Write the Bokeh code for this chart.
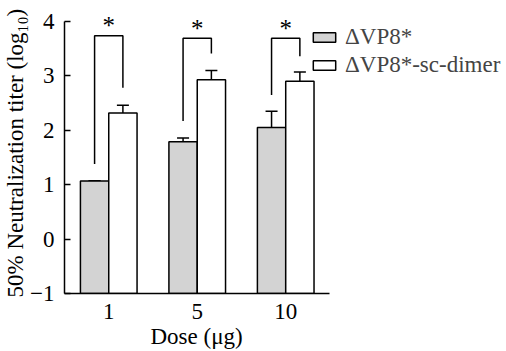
from bokeh.plotting import figure
from bokeh.models import (ColumnDataSource, Whisker, TeeHead, Title,
                          Legend, LegendItem, Range1d, FixedTicker)
from bokeh.transform import dodge
from bokeh.core.properties import value
from bokeh.embed import file_html
from bokeh.resources import INLINE

# ---- data ----
doses = ["1", "5", "10"]
vp8 = [1.07, 1.79, 2.05]
vp8_upper = [1.07, 1.86, 2.35]
vp8_lower = [1.07, 1.72, -0.34]
dimer = [2.32, 2.93, 2.90]
dimer_upper = [2.46, 3.10, 3.07]
dimer_lower = [2.14, 2.69, 2.68]
# significance brackets: left leg bottom, bracket top, right leg bottom
br_left = [1.38, 2.17, 2.65]
br_top = [3.74, 3.69, 3.69]
br_right = [2.78, 3.41, 3.36]
stars = ["*", "*", "*"]
series_names = ["\u0394VP8*", "\u0394VP8*-sc-dimer"]
x_title = "Dose (\u03bcg)"
y_title = "50% Neutralization titer (log\u2081\u2080)"
y_ticks = [-1, 0, 1, 2, 3, 4]

FONT = "Liberation Serif"
OFF = 0.16
W = 0.32

xpos = list(range(1, len(doses) + 1))
src = ColumnDataSource(dict(x=xpos, vp8=vp8, vp8_u=vp8_upper, vp8_l=vp8_lower,
                            dimer=dimer, dimer_u=dimer_upper, dimer_l=dimer_lower))

p = figure(x_range=Range1d(0.5, 5.45), y_range=Range1d(-1, 4.386),
           frame_width=438, frame_height=293,
           min_border_left=60, min_border_right=0, min_border_top=0,
           min_border_bottom=58, output_backend="svg", toolbar_location=None)
p.outline_line_color = None
p.xgrid.visible = False
p.ygrid.visible = False

r1 = p.vbar(x=dodge("x", -OFF), top="vp8", bottom=-1, width=W,
            source=src, fill_color="#d3d3d3", line_color="black", line_width=1.5)
r2 = p.vbar(x=dodge("x", OFF), top="dimer", bottom=-1, width=W,
            source=src, fill_color="white", line_color="black", line_width=1.5)

for xo, up, lo in [(-OFF, "vp8_u", "vp8_l"), (OFF, "dimer_u", "dimer_l")]:
    wk = Whisker(base=dodge("x", xo), upper=up, lower=lo, source=src,
                 line_color="black", line_width=1.5,
                 upper_head=TeeHead(size=12, line_color="black", line_width=1.5),
                 lower_head=TeeHead(size=12, line_color="black", line_width=1.5))
    p.add_layout(wk)

# brackets
xs, ys = [], []
for xc, l, t, r in zip(xpos, br_left, br_top, br_right):
    xs.append([xc - OFF, xc - OFF, xc + OFF, xc + OFF])
    ys.append([l, t, t, r])
p.multi_line(xs=xs, ys=ys, line_color="black", line_width=1.5)
p.text(x=xpos, y=[t + 0.18 for t in br_top], text=stars,
       text_font=value(FONT), text_font_size=value("25px"), text_align="center",
       text_baseline="middle", text_color="black")

# axes
p.xaxis.ticker = FixedTicker(ticks=xpos)
p.xaxis.major_label_overrides = {x: d for x, d in zip(xpos, doses)}
p.xaxis.bounds = (0.5, len(doses) + 0.5)
p.yaxis.ticker = FixedTicker(ticks=y_ticks)
p.yaxis.bounds = (y_ticks[0], y_ticks[-1])
p.yaxis.major_label_overrides = {-1: "\u22121"}
p.yaxis.major_tick_in = 6
p.yaxis.major_tick_out = 0
p.yaxis.minor_tick_line_color = None
p.xaxis.major_tick_line_color = None
p.xaxis.minor_tick_line_color = None
for ax in (p.xaxis, p.yaxis):
    ax.axis_line_color = "black"
    ax.axis_line_width = 1.5
    ax.major_tick_line_width = 1.5
    ax.major_label_text_font = FONT
    ax.major_label_text_font_size = "23px"
    ax.major_label_text_color = "black"
p.yaxis.major_label_standoff = 10
p.xaxis.major_label_standoff = 4

# axis titles placed as side titles so they can be offset
p.add_layout(Title(text=y_title, align="left", offset=-4, standoff=0,
                   text_font=FONT, text_font_size="23px",
                   text_font_style="normal", text_color="black"), "left")
p.add_layout(Title(text=x_title, align="left", offset=86, standoff=0,
                   text_font=FONT, text_font_size="23px",
                   text_font_style="normal", text_color="black"), "below")

legend = Legend(items=[LegendItem(label=series_names[0], renderers=[r1]),
                       LegendItem(label=series_names[1], renderers=[r2])],
                location=(246, 215), orientation="vertical",
                glyph_width=28, glyph_height=12, label_text_font=FONT,
                label_text_font_size="23px", label_standoff=7, spacing=2,
                padding=0, margin=0, border_line_color=None,
                background_fill_alpha=0)
p.add_layout(legend, "center")

open("out.html", "w").write(file_html(p, INLINE))
